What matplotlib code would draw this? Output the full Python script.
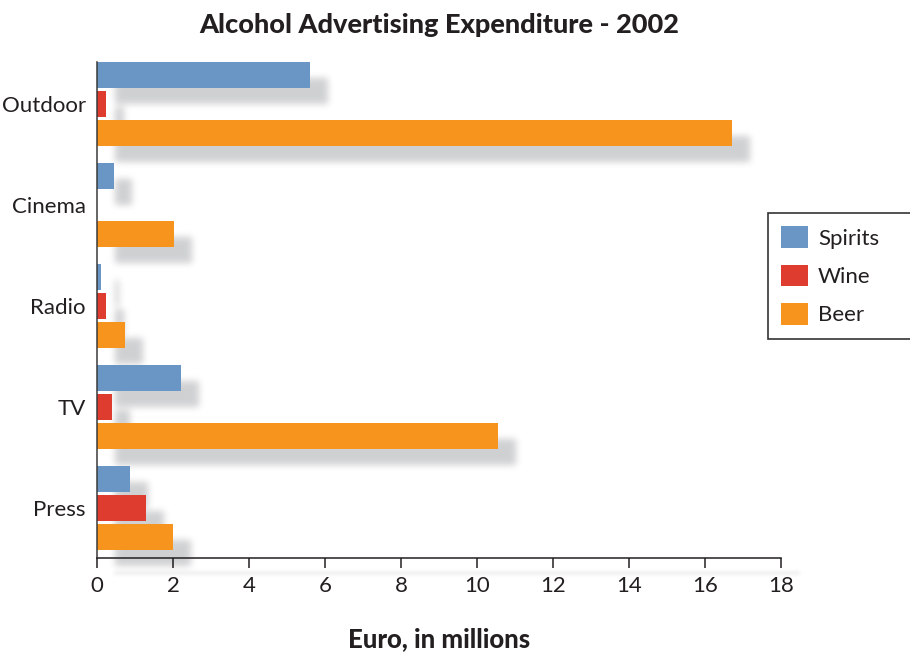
import numpy as np
import matplotlib.pyplot as plt

categories = ['Outdoor', 'Cinema', 'Radio', 'TV', 'Press']
series_names = ['Spirits', 'Wine', 'Beer']
spirits = [5.6, 0.45, 0.1, 2.2, 0.87]
wine = [0.24, 0.0, 0.24, 0.39, 1.28]
beer = [16.7, 2.02, 0.73, 10.56, 2.0]
xticks = [0, 2, 4, 6, 8, 10, 12, 14, 16, 18]

colors = ['#6a96c6', '#de3c2e', '#f7941e']
ink = '#231f20'
font = 'Lato'

plt.rcParams['font.family'] = font


def gauss_blur(a, sigma):
    # separable gaussian done with rolls, the array is padded so wrap-around is harmless
    r = int(3 * sigma)
    x = np.arange(-r, r + 1)
    k = np.exp(-x ** 2 / (2.0 * sigma ** 2))
    k /= k.sum()
    for axis in (0, 1):
        out = np.zeros_like(a)
        for i, w in enumerate(k):
            out += w * np.roll(a, i - r, axis=axis)
        a = out
    return a


def drop_shadow(im, dpi, dx=18, dy=16, sigma=3.5, alpha=0.19, rgb=(0.02, 0.03, 0.07)):
    pad = dx + dy + int(4 * sigma)
    a = np.pad(im, ((pad, pad), (pad, pad), (0, 0)))
    a = gauss_blur(a, sigma)
    a = np.roll(a, dx, axis=1)
    a = np.roll(a, dy, axis=0)
    a[:, :, :3] = rgb
    a[:, :, 3] *= alpha
    return a, -pad, -pad


fig = plt.figure(figsize=(9.1, 6.59), dpi=100)
ax = fig.add_axes([97 / 910, 1 - 558 / 659, 684 / 910, 496 / 659])

pitch = 0.287   # distance between bars inside a group
height = 0.257
ypos = np.arange(len(categories))
values = [spirits, wine, beer]

for j, (vals, c, name) in enumerate(zip(values, colors, series_names)):
    yy = ypos + (j - 1) * pitch
    bars = ax.barh(yy, vals, height=height, color=c, label=name)
    shadows = ax.barh(yy, vals, height=height, color='k')
    # stack top to bottom so every shadow falls over the bars above it
    for i, (b, s) in enumerate(zip(bars, shadows)):
        order = i * 3 + j
        s.set_zorder(2 + 2 * order)
        s.set_agg_filter(drop_shadow)
        b.set_zorder(3 + 2 * order)

ax.set_ylim(4 + pitch + height / 2 + 0.08, -pitch - height / 2)
ax.set_xlim(0, 18)
ax.set_xticks(xticks)
ax.set_yticks(ypos)
ax.set_yticklabels(categories)

ax.spines['top'].set_visible(False)
ax.spines['right'].set_visible(False)
ax.spines['left'].set_color('#3a3a3a')
ax.spines['bottom'].set_color(ink)
ax.spines['left'].set_linewidth(1.1)
ax.spines['bottom'].set_linewidth(1.1)
ax.spines['left'].set_zorder(100)
ax.spines['bottom'].set_zorder(100)

# soft shadow under the x axis line
axline, = ax.plot([0, 1], [0, 0], transform=ax.transAxes, color='k', lw=1.6,
                  clip_on=False, zorder=1)
axline.set_agg_filter(lambda im, dpi: drop_shadow(im, dpi, dx=18, dy=15, sigma=2.0, alpha=0.12))

ax.tick_params(axis='x', direction='out', length=7, width=1.1, color=ink,
               labelsize=16, labelcolor=ink, pad=6)
ax.tick_params(axis='y', length=0, labelsize=16, labelcolor=ink, pad=8)

ax.set_title('Alcohol Advertising Expenditure - 2002', fontsize=19.5, fontweight='black',
             color=ink, pad=21)
ax.set_xlabel('Euro, in millions', fontsize=18.5, fontweight='black', color=ink, labelpad=22)

leg = fig.legend(loc='upper left', bbox_to_anchor=(768 / 910, 1 - 339 / 659, 0.3, 126 / 659),
                 bbox_transform=fig.transFigure, mode='expand', borderaxespad=0,
                 fontsize=16, fancybox=False, framealpha=1, edgecolor='#333333',
                 handlelength=1.2, handleheight=1.1, handletextpad=0.45,
                 labelspacing=0.73, borderpad=0.6)
leg.get_frame().set_linewidth(1.2)
for t in leg.get_texts():
    t.set_color(ink)

fig.savefig('out.png', dpi=100)
